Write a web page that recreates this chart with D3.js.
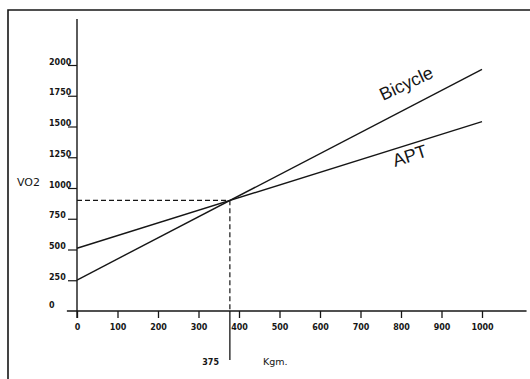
<!DOCTYPE html>
<html>
<head>
<meta charset="utf-8">
<script src="https://cdn.jsdelivr.net/npm/d3@7/dist/d3.min.js"></script>
<style>
  html, body { margin: 0; padding: 0; background: #fff; }
  svg { display: block; }
</style>
</head>
<body>
<svg id="chart" width="530" height="379"></svg>
<script>
// ---- data ----
const workload = [0, 1000];                 // Kgm.
const bicycle = [252, 1965];                // VO2 at 0 and 1000 Kgm
const apt = [510, 1540];                    // VO2 at 0 and 1000 Kgm
const xTicks = [0, 100, 200, 300, 400, 500, 600, 700, 800, 900, 1000];
const yTicks = [0, 250, 500, 750, 1000, 1250, 1500, 1750, 2000];
const crossX = 375;
const crossY = 900;
const seriesLabels = ["Bicycle", "APT"];

// ---- layout ----
const svg = d3.select("#chart");
const ink = "#161616";
const x = d3.scaleLinear().domain([0, 1000]).range([77, 482]);
const y = d3.scaleLinear().domain([0, 2000]).range([311, 65]);

// frame (left and top border)
svg.append("path")
  .attr("d", "M8,379 L8,10 L530,10")
  .attr("fill", "none").attr("stroke", ink).attr("stroke-width", 1.6);

// x axis
svg.append("line")
  .attr("x1", x(-25)).attr("x2", x(1110))
  .attr("y1", y(0)).attr("y2", y(0))
  .attr("stroke", ink).attr("stroke-width", 1.4);
const xg = svg.append("g").attr("transform", `translate(0,${y(0)})`)
  .call(d3.axisBottom(x).tickValues(xTicks).tickSize(7).tickFormat(d3.format("d")));
xg.select(".domain").remove();
xg.selectAll(".tick line").attr("stroke", ink).attr("stroke-width", 1.3);
xg.selectAll(".tick text")
  .attr("fill", ink).attr("y", 13).attr("dy", "0.71em")
  .style("font-family", "DejaVu Sans").style("font-weight", "bold").style("font-size", "8px");

// y axis
svg.append("line")
  .attr("x1", x(0)).attr("x2", x(0))
  .attr("y1", y(2375)).attr("y2", y(0) + 7)
  .attr("stroke", ink).attr("stroke-width", 1.4);
const yg = svg.append("g").attr("transform", `translate(${x(0)},0)`)
  .call(d3.axisLeft(y).tickValues(yTicks).tickSize(9).tickFormat(d3.format("d")));
yg.select(".domain").remove();
yg.selectAll(".tick line").attr("stroke", ink).attr("stroke-width", 1.2)
  .attr("display", d => d === 0 ? "none" : null);
yg.selectAll(".tick text")
  .attr("fill", ink).attr("x", -28).attr("dy", -1).attr("text-anchor", "start")
  .attr("dominant-baseline", "auto")
  .style("font-family", "DejaVu Sans").style("font-weight", "bold").style("font-size", "8px");
yg.selectAll(".tick text").attr("y", d => d === 0 ? -3 : 0);

// axis titles
svg.append("text").attr("x", 17).attr("y", 186).text("VO2")
  .attr("fill", ink).style("font-family", "DejaVu Sans").style("font-size", "11px");
svg.append("text").attr("x", 263).attr("y", 365).text("Kgm.")
  .attr("fill", ink).style("font-family", "DejaVu Sans").style("font-size", "9.5px");
svg.append("text").attr("x", 219).attr("y", 365).attr("text-anchor", "end").text(String(crossX))
  .attr("fill", ink).style("font-family", "DejaVu Sans").style("font-weight", "bold").style("font-size", "8px");

// dashed reference lines
svg.append("line")
  .attr("x1", x(0)).attr("x2", x(crossX)).attr("y1", y(crossY)).attr("y2", y(crossY))
  .attr("stroke", ink).attr("stroke-width", 1.2).attr("stroke-dasharray", "5,3");
svg.append("line")
  .attr("x1", x(crossX) + 1).attr("x2", x(crossX) + 1).attr("y1", y(crossY)).attr("y2", y(0))
  .attr("stroke", ink).attr("stroke-width", 1.2).attr("stroke-dasharray", "5,3");
svg.append("line")
  .attr("x1", x(crossX) + 1).attr("x2", x(crossX) + 1).attr("y1", y(0)).attr("y2", y(0) + 49)
  .attr("stroke", ink).attr("stroke-width", 1.3);

// series lines
const line = d3.line().x(d => x(d[0])).y(d => y(d[1]));
[bicycle, apt].forEach(s => {
  svg.append("path")
    .datum(workload.map((w, i) => [w, s[i]]))
    .attr("d", line)
    .attr("fill", "none").attr("stroke", ink).attr("stroke-width", 1.4);
});

// series labels
svg.append("text").text(seriesLabels[0])
  .attr("transform", "translate(383,101) rotate(-25)")
  .attr("fill", ink).style("font-family", "Liberation Sans, Arial").style("font-size", "18px");
svg.append("text").text(seriesLabels[1])
  .attr("transform", "translate(395,167) rotate(-18)")
  .attr("fill", ink).style("font-family", "Liberation Sans, Arial").style("font-size", "18px");
</script>
</body>
</html>
